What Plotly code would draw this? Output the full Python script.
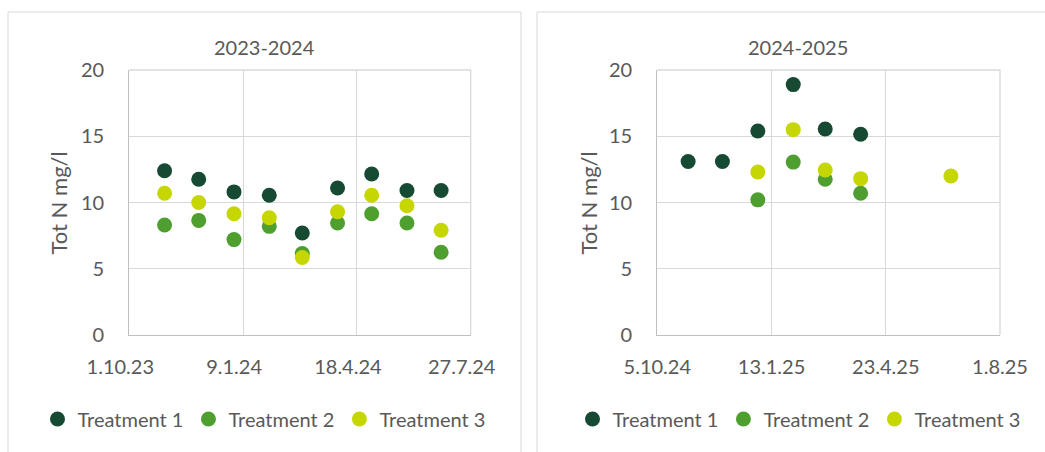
import plotly.graph_objects as go

# ---- data: total nitrogen (mg/l) per treatment ----
# Season 2023-2024
dates_2324 = ["2023-11-01", "2023-12-01", "2024-01-01", "2024-02-01", "2024-03-01",
              "2024-04-01", "2024-05-01", "2024-06-01", "2024-07-01"]
t1_2324 = [12.4, 11.75, 10.8, 10.55, 7.7, 11.1, 12.15, 10.9, 10.9]
t2_2324 = [8.3, 8.65, 7.2, 8.2, 6.15, 8.45, 9.15, 8.45, 6.25]
t3_2324 = [10.7, 10.0, 9.15, 8.85, 5.85, 9.3, 10.55, 9.75, 7.9]

# Season 2024-2025
dates_t1_2425 = ["2024-11-01", "2024-12-01", "2025-01-01", "2025-02-01", "2025-03-01", "2025-04-01"]
t1_2425 = [13.1, 13.1, 15.4, 18.9, 15.55, 15.15]
dates_t2_2425 = ["2025-01-01", "2025-02-01", "2025-03-01", "2025-04-01"]
t2_2425 = [10.2, 13.05, 11.75, 10.7]
dates_t3_2425 = ["2025-01-01", "2025-02-01", "2025-03-01", "2025-04-01", "2025-06-19"]
t3_2425 = [12.3, 15.5, 12.45, 11.8, 12.0]

# axis ticks
tick_dates_2324 = ["2023-10-01", "2024-01-09", "2024-04-18", "2024-07-27"]
tick_text_2324 = ["1.10.23", "9.1.24", "18.4.24", "27.7.24"]
tick_dates_2425 = ["2024-10-05", "2025-01-13", "2025-04-23", "2025-08-01"]
tick_text_2425 = ["5.10.24", "13.1.25", "23.4.25", "1.8.25"]
y_ticks = [0, 5, 10, 15, 20]

series_names = ["Treatment 1", "Treatment 2", "Treatment 3"]
colors = ["#174A32", "#4E9F2F", "#C5D600"]

W, H = 1045, 452
FONT = "Lato"
TXT = "#595959"
GRID = "#D9D9D9"
AXIS = "#BFBFBF"


def px_x(v):
    return v / W


def px_y(v):
    return 1 - v / H


fig = go.Figure()

left = [(dates_2324, t1_2324), (dates_2324, t2_2324), (dates_2324, t3_2324)]
right = [(dates_t1_2425, t1_2425), (dates_t2_2425, t2_2425), (dates_t3_2425, t3_2425)]

for (x, y), name, c in zip(left, series_names, colors):
    fig.add_trace(go.Scatter(x=x, y=y, mode="markers", name=name,
                             marker=dict(size=15, color=c, line=dict(width=0)),
                             xaxis="x", yaxis="y", legend="legend"))
for (x, y), name, c in zip(right, series_names, colors):
    fig.add_trace(go.Scatter(x=x, y=y, mode="markers", name=name,
                             marker=dict(size=15, color=c, line=dict(width=0)),
                             xaxis="x2", yaxis="y2", legend="legend2"))

ydom = [px_y(335), px_y(70)]
common_x = dict(type="date", showgrid=True, gridcolor=GRID, gridwidth=1.3,
                showline=True, linecolor=AXIS, linewidth=1.3, ticks="",
                tickfont=dict(family=FONT, size=20, color=TXT),
                ticklabelstandoff=14, zeroline=False, fixedrange=True)
common_y = dict(range=[0, 20], tickvals=y_ticks, showgrid=True, gridcolor=GRID,
                gridwidth=1.3, showline=True, linecolor=AXIS, linewidth=1.3, ticks="",
                tickfont=dict(family=FONT, size=20, color=TXT),
                ticklabelstandoff=20, zeroline=False, fixedrange=True)

fig.update_layout(
    width=W, height=H,
    margin=dict(l=0, r=0, t=0, b=0, pad=0, autoexpand=False),
    paper_bgcolor="white", plot_bgcolor="white",
    font=dict(family=FONT, color=TXT),
    xaxis=dict(common_x, domain=[px_x(129.3), px_x(470.7)], anchor="y",
               range=[tick_dates_2324[0], tick_dates_2324[-1]],
               tickvals=tick_dates_2324, ticktext=tick_text_2324,
               ticklabelshift=-9),
    yaxis=dict(common_y, domain=ydom, anchor="x"),
    xaxis2=dict(common_x, domain=[px_x(657.3), px_x(1000)], anchor="y2",
                range=[tick_dates_2425[0], tick_dates_2425[-1]],
                tickvals=tick_dates_2425, ticktext=tick_text_2425),
    yaxis2=dict(common_y, domain=ydom, anchor="x2"),
    legend=dict(orientation="h", x=px_x(264), y=px_y(419), xanchor="center",
                yanchor="middle", font=dict(family=FONT, size=20, color=TXT),
                itemwidth=30, bgcolor="rgba(0,0,0,0)"),
    legend2=dict(orientation="h", x=px_x(799), y=px_y(419), xanchor="center",
                 yanchor="middle", font=dict(family=FONT, size=20, color=TXT),
                 itemwidth=30, bgcolor="rgba(0,0,0,0)"),
    showlegend=True,
)

# panel frames
for x0, x1 in [(8, 521), (537, 1060)]:
    fig.add_shape(type="rect", xref="paper", yref="paper",
                  x0=px_x(x0), x1=px_x(x1), y0=px_y(470), y1=px_y(12),
                  line=dict(color=GRID, width=1), fillcolor="rgba(0,0,0,0)",
                  layer="below")

# outer gridlines along the top and right edges of each plot area
for xr, yr in [("x domain", "y domain"), ("x2 domain", "y2 domain")]:
    fig.add_shape(type="path", xref=xr, yref=yr, path="M 0 1 L 1 1 L 1 0",
                  line=dict(color=GRID, width=1.3), layer="below")

# panel titles and axis titles
for cx, title in [(264, "2023-2024"), (798, "2024-2025")]:
    fig.add_annotation(text=title, x=px_x(cx), y=px_y(47), xref="paper", yref="paper",
                       showarrow=False, xanchor="center", yanchor="middle",
                       font=dict(family=FONT, size=20, color=TXT))
for cx in [57.5, 587.5]:
    fig.add_annotation(text="Tot N mg/l", x=px_x(cx), y=px_y(203), xref="paper", yref="paper",
                       showarrow=False, xanchor="center", yanchor="middle", textangle=-90,
                       font=dict(family=FONT, size=22, color=TXT))

fig.write_html("out.html")
